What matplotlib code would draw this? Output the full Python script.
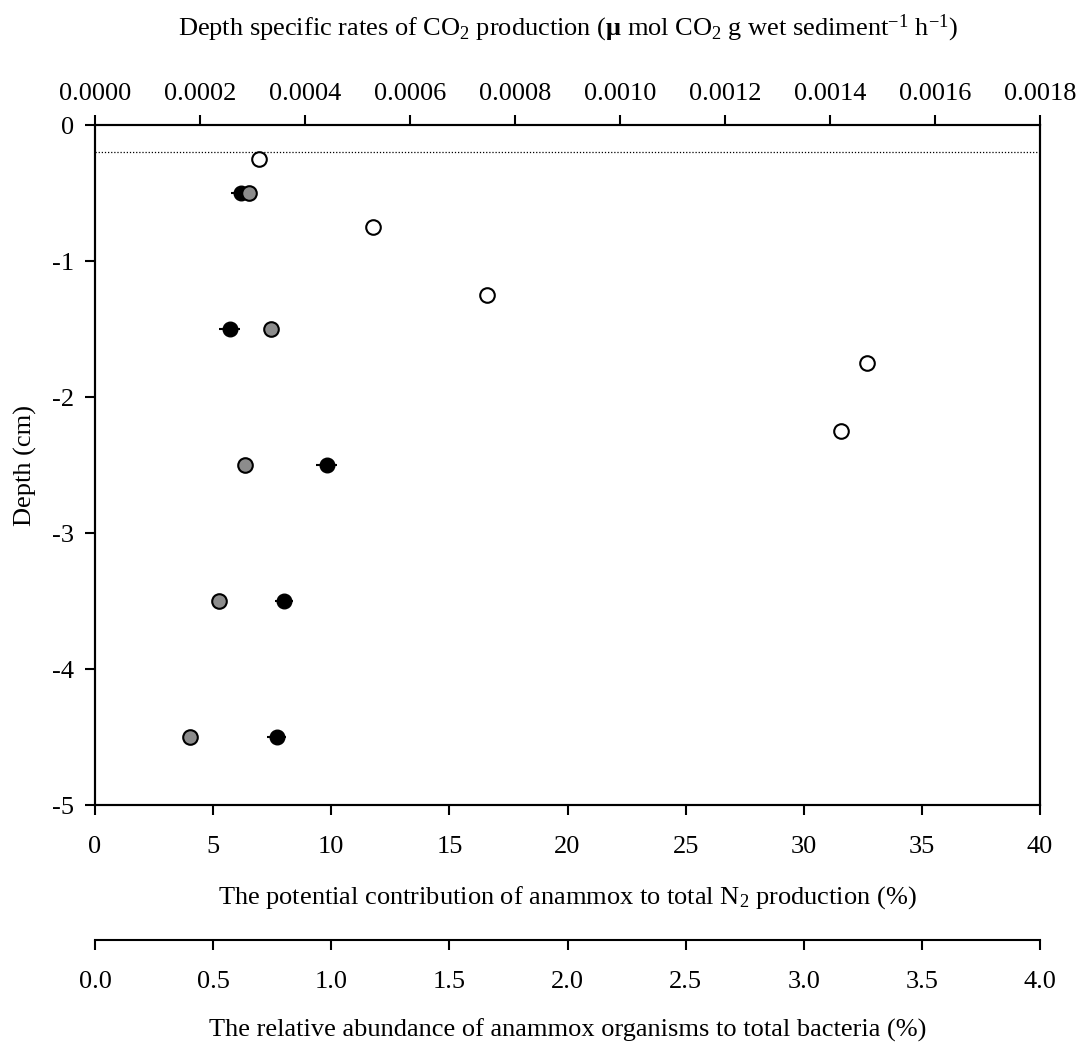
import matplotlib

matplotlib.use("Agg")

import matplotlib.pyplot as plt

plt.rcParams["font.family"] = ["Liberation Serif", "DejaVu Serif"]
plt.rcParams["mathtext.fontset"] = "custom"
plt.rcParams["mathtext.rm"] = "Liberation Serif"
plt.rcParams["mathtext.it"] = "Liberation Serif:italic"
plt.rcParams["mathtext.bf"] = "Liberation Serif:bold"
plt.rcParams["axes.unicode_minus"] = False

# depth (cm)
co2_depth = [-0.25, -0.75, -1.25, -1.75, -2.25]
# CO2 production rates (top axis)
co2_rate = [0.000312, 0.000530, 0.000747, 0.00147, 0.00142]

anammox_depth = [-0.5, -1.5, -2.5, -3.5, -4.5]
# contribution of anammox to N2 production, % (bottom axis)
anammox_contrib = [6.2, 5.7, 9.8, 8.0, 7.7]
anammox_err = [0.45, 0.45, 0.45, 0.4, 0.4]
# relative abundance of anammox organisms, % (third axis)
anammox_abund = [0.65, 0.745, 0.635, 0.525, 0.40]

oxic_depth = -0.2

y_ticks = [0, -1, -2, -3, -4, -5]
contrib_ticks = [0, 5, 10, 15, 20, 25, 30, 35, 40]
rate_ticks = [0.0, 0.0002, 0.0004, 0.0006, 0.0008, 0.0010,
              0.0012, 0.0014, 0.0016, 0.0018]
abund_ticks = [0.0, 0.5, 1.0, 1.5, 2.0, 2.5, 3.0, 3.5, 4.0]

FS = 19
LW = 1.5


def style_ticks(axis_obj, pad):
    axis_obj.tick_params(direction="out", length=7, width=LW,
                         labelsize=FS, pad=pad)


def main():

    fig = plt.figure(figsize=(10.81, 10.50), dpi=100)

    left, right = 95 / 1081, 1040 / 1081
    bottom, top = 1 - 805 / 1050, 1 - 125 / 1050

    ax = fig.add_axes([left, bottom, right - left, top - bottom])

    ax.set_xlim(0, 40)
    ax.set_ylim(-5, 0)

    ax.set_xticks(contrib_ticks)
    ax.set_xticklabels([str(t) for t in contrib_ticks])
    ax.set_yticks(y_ticks)
    ax.set_yticklabels([str(t) for t in y_ticks])

    style_ticks(ax, 15)
    ax.tick_params(axis="y", pad=8)

    for s in ax.spines.values():
        s.set_linewidth(LW)

    ax.axhline(oxic_depth, color="black", linestyle=(0, (1, 1.5)),
               linewidth=0.9, zorder=1)

    # anammox organisms abundance (third axis, scaled x10)
    ax.plot(
        [a * 10 for a in anammox_abund],
        anammox_depth,
        linestyle="none",
        marker="o",
        markersize=10.5,
        markerfacecolor="#8c8c8c",
        markeredgecolor="black",
        markeredgewidth=1.5,
        zorder=4
    )

    # anammox contribution with error bars
    ax.errorbar(
        anammox_contrib,
        anammox_depth,
        xerr=anammox_err,
        fmt="o",
        markersize=10.5,
        markerfacecolor="black",
        markeredgecolor="black",
        ecolor="black",
        elinewidth=1.5,
        capsize=0,
        zorder=3
    )

    ax_top = ax.twiny()
    ax_top.set_xlim(0, 0.0018)
    ax_top.set_xticks(rate_ticks)
    ax_top.set_xticklabels([f"{t:.4f}" for t in rate_ticks])
    style_ticks(ax_top, 7.5)
    for s in ax_top.spines.values():
        s.set_linewidth(LW)

    ax_top.plot(
        co2_rate,
        co2_depth,
        linestyle="none",
        marker="o",
        markersize=10.5,
        markerfacecolor="white",
        markeredgecolor="black",
        markeredgewidth=1.5,
        zorder=5
    )

    # third axis: only a bottom line
    y3 = 1 - 940 / 1050
    ax3 = fig.add_axes([left, y3, right - left, 0.0001])
    ax3.set_xlim(0, 4.0)
    ax3.set_yticks([])
    ax3.set_xticks(abund_ticks)
    ax3.set_xticklabels([f"{t:.1f}" for t in abund_ticks])
    style_ticks(ax3, 15.5)
    for name in ["top", "left", "right"]:
        ax3.spines[name].set_visible(False)
    ax3.spines["bottom"].set_linewidth(LW)
    ax3.patch.set_visible(False)

    cx = (left + right) / 2

    fig.text(
        cx, 1 - 28 / 1050,
        r"Depth specific rates of CO$_2$ production "
        r"($\mathbf{\mu}$ mol CO$_2$ g wet sediment$^{\mathrm{-1}}$ h$^{\mathrm{-1}}$)",
        ha="center", va="center", fontsize=FS
    )

    fig.text(
        cx, 1 - 898 / 1050,
        r"The potential contribution of anammox to total N$_2$ production (%)",
        ha="center", va="center", fontsize=FS
    )

    fig.text(
        cx, 1 - 1030 / 1050,
        "The relative abundance of anammox organisms to total bacteria (%)",
        ha="center", va="center", fontsize=FS
    )

    fig.text(
        25 / 1081, 1 - 465 / 1050,
        "Depth (cm)",
        ha="center", va="center", rotation=90, fontsize=FS
    )

    fig.savefig("out.png", dpi=100)
    plt.close(fig)


if __name__ == "__main__":
    main()
